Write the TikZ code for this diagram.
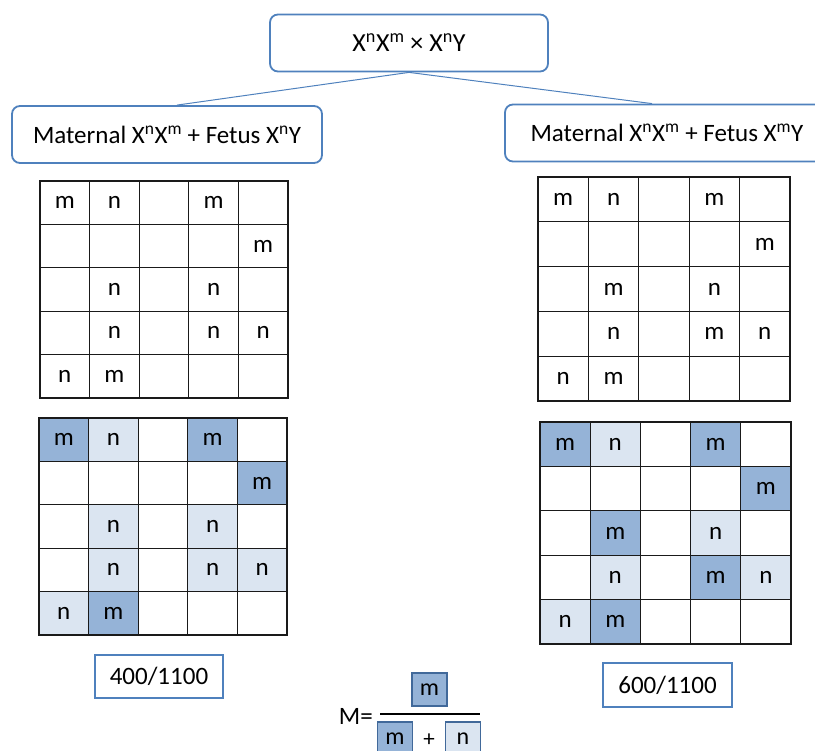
\documentclass[tikz,border=0pt]{standalone}
\usepackage{fontspec}
\setmainfont{Carlito}
\usetikzlibrary{positioning}

\definecolor{boxblue}{HTML}{4F81BD}
\definecolor{boxedge}{HTML}{41699A}
\definecolor{cellm}{HTML}{95B3D7}
\definecolor{celln}{HTML}{DBE5F1}
\definecolor{gridgray}{HTML}{1A1A1A}

\newcommand{\allele}[1]{\textsuperscript{#1}}

\tikzset{
  hdr/.style={draw=boxblue, line width=1.8pt, rounded corners=8pt, fill=white,
    minimum height=57pt, inner sep=0pt, font=\fontsize{25}{30}\selectfont},
  link/.style={draw=boxblue, line width=1pt},
  cell/.style={inner sep=0pt, font=\fontsize{25}{30}\selectfont},
  cellL/.style={minimum width=49.6pt, minimum height=43.4pt},
  cellR/.style={minimum width=50.3pt, minimum height=44.6pt},
  gridline/.style={draw=gridgray, line width=1.3pt, line cap=rect},
  tally/.style={draw=boxblue, line width=1.8pt, inner sep=0pt, font=\fontsize{25}{30}\selectfont},
  mbox/.style={draw=boxedge, line width=1.8pt, minimum width=35pt, minimum height=33pt,
    inner sep=0pt, font=\fontsize{24}{28}\selectfont},
}

\begin{document}
\begin{tikzpicture}[x=1pt, y=-1pt]
    \useasboundingbox (0,0) rectangle (815,751);

    % Define the header boxes
    \node[hdr, minimum width=278pt, font=\fontsize{26}{30}\selectfont] (cross) at (409,43) {X\allele{n}X\allele{m} × X\allele{n}Y};
    \node[hdr, minimum width=310pt] (lhdr) at (167,134.5) {Maternal X\allele{n}X\allele{m} + Fetus X\allele{n}Y};
    \node[hdr, minimum width=324pt] (rhdr) at (667,133) {Maternal X\allele{n}X\allele{m} + Fetus X\allele{m}Y};

    % Draw lines from the cross to both cases
    \draw[link] (cross.south) -- ([xshift=10pt]lhdr.north);
    \draw[link] (cross.south) -- ([xshift=-15pt]rhdr.north);

    % Left grid (plain)
    \begin{scope}[shift={(40,181)}, x=49.6pt, y=-43.4pt]
        \foreach \c/\r/\t in {1/1/m, 2/1/n, 4/1/m, 5/2/m, 2/3/n, 4/3/n, 2/4/n, 4/4/n, 5/4/n, 1/5/n, 2/5/m}
            \node[cell, cellL] (lt-\r-\c) at (\c-.5,\r-.5) {\t};
        \foreach \i in {0,...,5} {
            \draw[gridline] (\i,0) -- (\i,5);
            \draw[gridline] (0,\i) -- (5,\i);
        }
    \end{scope}

    % Left grid (shaded)
    \begin{scope}[shift={(39,418)}, x=49.6pt, y=-43.4pt]
        \foreach \c/\r/\t in {1/1/m, 2/1/n, 4/1/m, 5/2/m, 2/3/n, 4/3/n, 2/4/n, 4/4/n, 5/4/n, 1/5/n, 2/5/m}
            \node[cell, cellL, fill=cell\t] (lb-\r-\c) at (\c-.5,\r-.5) {\t};
        \foreach \i in {0,...,5} {
            \draw[gridline] (\i,0) -- (\i,5);
            \draw[gridline] (0,\i) -- (5,\i);
        }
    \end{scope}

    % Right grid (plain)
    \begin{scope}[shift={(538,177)}, x=50.4pt, y=-44.8pt]
        \foreach \c/\r/\t in {1/1/m, 2/1/n, 4/1/m, 5/2/m, 2/3/m, 4/3/n, 2/4/n, 4/4/m, 5/4/n, 1/5/n, 2/5/m}
            \node[cell, cellR] (rt-\r-\c) at (\c-.5,\r-.5) {\t};
        \foreach \i in {0,...,5} {
            \draw[gridline] (\i,0) -- (\i,5);
            \draw[gridline] (0,\i) -- (5,\i);
        }
    \end{scope}

    % Right grid (shaded)
    \begin{scope}[shift={(540,422)}, x=50.2pt, y=-44.4pt]
        \foreach \c/\r/\t in {1/1/m, 2/1/n, 4/1/m, 5/2/m, 2/3/m, 4/3/n, 2/4/n, 4/4/m, 5/4/n, 1/5/n, 2/5/m}
            \node[cell, cellR, fill=cell\t] (rb-\r-\c) at (\c-.5,\r-.5) {\t};
        \foreach \i in {0,...,5} {
            \draw[gridline] (\i,0) -- (\i,5);
            \draw[gridline] (0,\i) -- (5,\i);
        }
    \end{scope}

    % Fractions under the grids
    \node[tally, minimum width=128pt, minimum height=43pt] (lres) at (159,676.5) {400/1100};
    \node[tally, minimum width=129pt, minimum height=44pt] (rres) at (667.5,685) {600/1100};

    % The formula
    \node[font=\fontsize{25}{30}\selectfont, anchor=east, inner sep=0pt] (mlabel) at (373,716) {M=};
    \node[mbox, fill=cellm] (num) at (429.5,689.5) {m};
    \node[mbox, fill=cellm] (denm) at (395,738.5) {m};
    \node[mbox, fill=celln] (denn) at (463,738.5) {n};
    \node[font=\fontsize{23}{28}\selectfont, inner sep=0pt] (plus) at (429,740) {+};
    \coordinate (barl) at (380,714);
    \coordinate (barr) at (480,714);
    \draw[line width=1.2pt] (barl) -- (barr);

\end{tikzpicture}
\end{document}
